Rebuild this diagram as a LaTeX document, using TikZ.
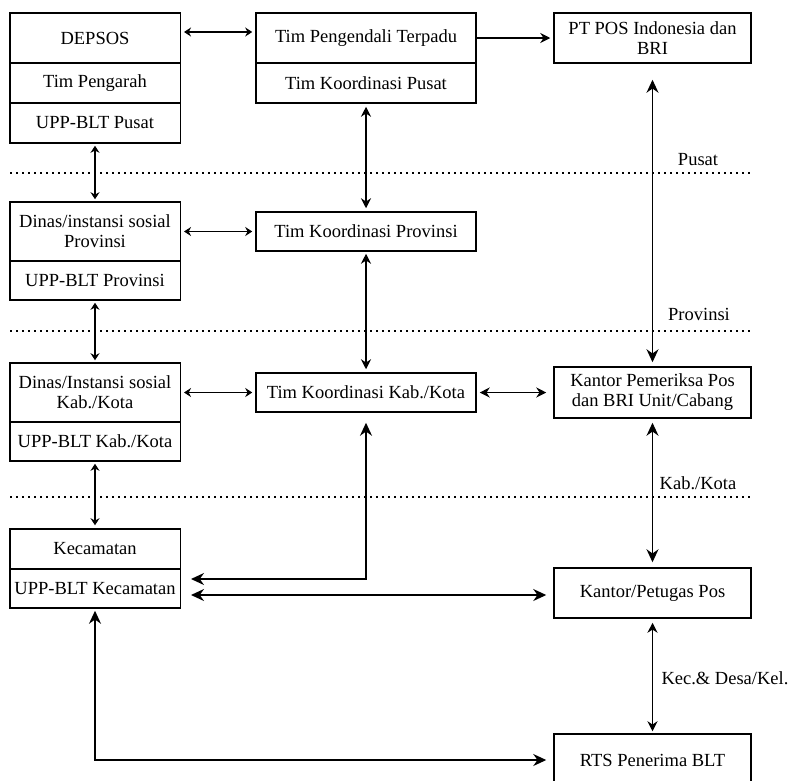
\documentclass[tikz,border=0pt]{standalone}
\usepackage{fontspec}
\setmainfont{Liberation Serif}
\usetikzlibrary{arrows.meta}

\tikzset{
    box/.style={draw, line width=1.5pt, inner sep=0pt, align=center},
    lbox/.style={box, minimum width=170.5pt},
    mbox/.style={box, minimum width=220pt},
    rbox/.style={box, minimum width=197pt},
    lnk/.style={line width=1.5pt, <->, >={Stealth[length=7pt,width=9pt]}},
    mlnk/.style={lnk, >={Stealth[length=10pt,width=10pt]}},
    blnk/.style={lnk, >={Stealth[length=13pt,width=12pt]}},
    level/.style={line width=1.1pt, dash pattern=on 2pt off 4pt}
}

\begin{document}
\begin{tikzpicture}[x=1pt, y=-1pt, font=\fontsize{18.5}{20}\selectfont]
        \clip (0,0) rectangle (789,780);
        % left column
        \node[lbox, minimum height=50pt] (depsos) at (95,38) {DEPSOS};
        \node[lbox, minimum height=40pt] (pengarah) at (95,83) {Tim Pengarah};
        \node[lbox, minimum height=40pt] (upppusat) at (95,123) {UPP-BLT Pusat};
        \node[lbox, minimum height=59pt] (dinasprov) at (95,231.5) {Dinas/instansi sosial\\Provinsi};
        \node[lbox, minimum height=39pt] (uppprov) at (95,280.5) {UPP-BLT Provinsi};
        \node[lbox, minimum height=59pt] (dinaskab) at (95,392.5) {Dinas/Instansi sosial\\Kab./Kota};
        \node[lbox, minimum height=39pt] (uppkab) at (95,441.5) {UPP-BLT Kab./Kota};
        \node[lbox, minimum height=40pt] (kecamatan) at (95,549) {Kecamatan};
        \node[lbox, minimum height=39pt] (uppkec) at (95,588.5) {UPP-BLT Kecamatan};
        % middle column
        \node[mbox, minimum height=50pt] (pengendali) at (366,38) {Tim Pengendali Terpadu};
        \node[mbox, minimum height=40pt] (koorpusat) at (366,83) {Tim Koordinasi Pusat};
        \node[mbox, minimum height=39pt] (koorprov) at (366,231.5) {Tim Koordinasi Provinsi};
        \node[mbox, minimum height=39pt] (koorkab) at (366,392.5) {Tim Koordinasi Kab./Kota};
        % right column
        \node[rbox, minimum height=50pt] (ptpos) at (652.5,38) {PT POS Indonesia dan\\BRI};
        \node[rbox, minimum height=51pt] (pemeriksa) at (652.5,392.5) {Kantor Pemeriksa Pos\\dan BRI Unit/Cabang};
        \node[rbox, minimum height=50pt] (petugas) at (652.5,593) {Kantor/Petugas Pos};
        \node[rbox, minimum height=52pt] (rts) at (652.5,760) {RTS Penerima BLT};

        % levels
        \draw[level] (10,173)--(751,173) (10,331)--(751,331) (10,497)--(751,497);
        \node (pusat) at (698,160) {Pusat};
        \node (provinsi) at (699,314) {Provinsi};
        \node (kabkota) at (698,483) {Kab./Kota};
        \node[anchor=west] (kecdesa) at (658,678) {Kec.\& Desa/Kel.};

        % links
        \draw[lnk, shorten <=3pt, shorten >=3pt]
            ([yshift=6pt]depsos.east) -- ([yshift=6pt]pengendali.west);
        \draw[mlnk, -> , shorten >=3pt] (pengendali.east) -- (ptpos.west);
        \draw[lnk, shorten <=2pt, shorten >=2pt] (upppusat.south) -- (dinasprov.north);
        \draw[lnk, shorten <=3pt, shorten >=3pt] (dinasprov.east) -- (koorprov.west);
        \draw[lnk, shorten <=2pt, shorten >=2pt] (uppprov.south) -- (dinaskab.north);
        \draw[lnk, shorten <=3pt, shorten >=3pt] (dinaskab.east) -- (koorkab.west);
        \draw[lnk, shorten <=2pt, shorten >=3pt] (uppkab.south) -- (kecamatan.north);
        \draw[mlnk, shorten <=3pt, shorten >=3pt] (koorpusat.south) -- (koorprov.north);
        \draw[mlnk, shorten <=2pt, shorten >=3pt] (koorprov.south) -- (koorkab.north);
        \draw[mlnk, shorten <=3pt, shorten >=7pt] (koorkab.east) -- (pemeriksa.west);
        \draw[blnk, shorten <=16pt, shorten >=4pt] (ptpos.south) -- (pemeriksa.north);
        \draw[blnk, shorten <=4pt, shorten >=5pt] (pemeriksa.south) -- (petugas.north);
        \draw[mlnk, shorten <=4pt, shorten >=2pt] (petugas.south) -- (rts.north);
        \draw[blnk, shorten <=10pt, shorten >=10pt]
            (koorkab.south) |- ([yshift=9.5pt]uppkec.east);
        \coordinate (kec2) at ([yshift=-6.5pt]uppkec.east);
        \draw[blnk, shorten <=10pt, shorten >=7pt] (kec2) -- (kec2 -| petugas.west);
        \draw[blnk, shorten <=2pt, shorten >=7pt] (uppkec.south) |- (rts.west);
    \end{tikzpicture}
\end{document}
